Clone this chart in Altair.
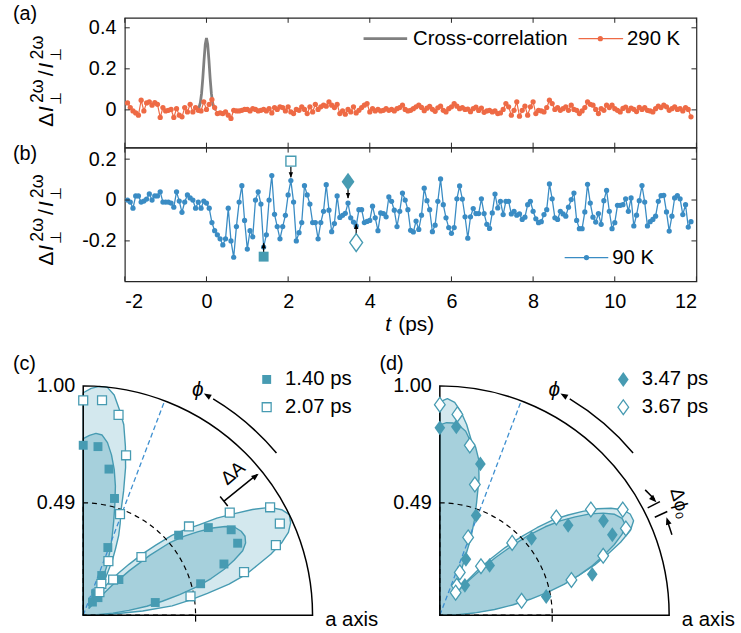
import altair as alt
import pandas as pd

FONT = "Liberation Sans"
ORANGE = "#ee6a45"
BLUE = "#3a8cc4"
GREY = "#808080"
TEAL = "#479bb2"
LIGHT_FILL = "#d3e8ee"
DARK_FILL = "#a6d0dc"
DASH_BLUE = "#3d8fd0"
FRAME = "#262626"

# ---------------- data: time traces (sampled every 1/15 ps from -29/15 ps) ----------------
K_START = -29
a_vals = [
    .034, .011, -.005, -.015, -.026, .047, -.005, .034, .039, .023,
    .035, .027, -.037, .011, -.005, -.002, .002, -.037, .006, -.026,
    -.034, .011, -.01, .027, -.01, .011, -.002, -.005, .039, .002,
    .027, .05, .011, -.018, -.015, -.018, -.01, -.026, -.042, -.002,
    -.005,
    -.005, -.002, .002, .002, -.005, .006, .002, -.005, -.002, .002,
    -.005, .006, -.015, .011, .002, .015, .011, -.005, .015, -.01,
    -.018, .002, -.002, .015, .002, -.018, .015, -.01, .027, .002,
    .015, .023, .018, .039, .023, .011, .027, -.018, -.005, -.021,
    .002, -.01, .015, -.015, -.002, .011, .023, .031, -.01, .006,
    -.005, .002, -.005, -.002, .006, -.002, .002,
    -.005, .006, .011, .023, .002, -.005, -.002, .006, .015, .023,
    .012, -.004, .008, .017, .003, -.007, .010,
    .018, -.002, -.01, .006, .015, .031, .018, .006, .011, .002,
    .004, -.009, .006, .013, -.003, .009, -.012,
    -.005, -.002, -.01, -.005, -.018, -.015, .002, .031, .015, -.026,
    -.002, .039, -.031, -.002, .018, -.026, .015, .039, -.018, -.002,
    -.005, -.01, .011, .047, .031, .002, .011, -.002, .006, .015,
    -.002, .023, .002, -.002, -.018, -.005, .011, .039, .027, .023,
    .002, -.018, .006, -.002, .023, .011, .023, .006, -.002, -.01,
    .007, .014, -.004, .009, .003, -.008, .012,
    .002, .011, -.002, -.005, -.01, .006, .018, .011, .023, .015,
    -.002, .006, .015, .002, .006, -.005, .011, .002, -.034,
]
b_vals = [
    0.0, -0.01, -0.04, 0.02, 0.02, -0.01, -0.005, 0.005, 0.03, 0.0,
    0.02, 0.02, 0.04, -0.01, -0.01, -0.01, -0.015, -0.035, 0.04, -0.005,
    -0.06, -0.01, 0.025, 0.01, 0.0, -0.04, -0.01, -0.04, -0.005, -0.015,
    -0.04, -0.11, -0.15, -0.17, -0.19, -0.22, -0.19, -0.04, -0.20, -0.28,
    -0.13, -0.01, 0.07, -0.10, -0.24, -0.15, -0.18, 0.00, 0.04, -0.02,
    -0.23, -0.17, 0.00,
    0.12, -0.07, -0.13, -0.19, -0.13, -0.075, 0.025, 0.095, -0.01, -0.20,
    -0.16, -0.11, 0.07, 0.025, -0.02, -0.11, -0.11, -0.19, -0.11, -0.055,
    0.075, -0.05, -0.155, -0.115, 0.02, -0.085, -0.075, -0.065, -0.015, -0.087,
    -0.108, -0.127, -0.047, -0.047, -0.11, -0.105, -0.10, -0.03, -0.087, -0.15,
    -0.063, -0.066, -0.082, 0.015, -0.006, -0.05, -0.13, -0.055, 0.034, 0.0,
    -0.047, -0.148, -0.156, -0.103, -0.144, -0.074, 0.058, -0.003, -0.047, -0.155,
    -0.123, -0.006, 0.103, -0.023, -0.087, -0.135, -0.163, -0.135, 0.006, 0.069,
    0.005, -0.082, -0.187, -0.082, -0.042, -0.066, -0.066, 0.006, -0.066, -0.119,
    -0.139, -0.063, 0.029, -0.039, -0.006, -0.071, -0.006, -0.006, -0.068, -0.055,
    -0.074, -0.068, -0.095, -0.084, -0.023, -0.006, -0.055, -0.092, -0.111, -0.106,
    -0.071, -0.047, 0.079, 0.006, -0.087, -0.095, -0.055, -0.068, -0.079, -0.035,
    0.002, 0.034, -0.10, -0.14, -0.14, -0.058, 0.077, -0.015, -0.084, -0.108,
    -0.066, -0.119, -0.003, 0.047, -0.055, -0.14, -0.111, -0.026, -0.026, -0.023,
    0.006, -0.055, 0.01, -0.127, -0.074, -0.003, 0.071, -0.01, -0.127, -0.106,
    -0.095, -0.079, -0.006, 0.021, 0.023, -0.058, -0.152, -0.079, 0.01, 0.021,
    0.006, -0.071, -0.023, -0.132, -0.106,
]
t_vals = [(K_START + i) / 15 for i in range(len(b_vals))]

cc_t = [-0.24, -0.21, -0.18, -0.15, -0.12, -0.09, -0.06, -0.03, 0.0,
        0.03, 0.06, 0.09, 0.12, 0.15, 0.18, 0.21, 0.24]
cc_v = [0.001, 0.004, 0.013, 0.035, 0.08, 0.153, 0.242, 0.319, 0.35,
        0.319, 0.242, 0.153, 0.08, 0.035, 0.013, 0.004, 0.001]

X_TICKS = [-2, 0, 2, 4, 6, 8, 10, 12]
YA_TICKS = [0, 0.2, 0.4]
YB_TICKS = [-0.2, 0, 0.2]

# markers & arrows in (b)
mk_t = [1.40, 2.067, 3.467, 3.667]
mk_v = [-0.277, 0.19, 0.09, -0.208]
ar_tail = [-0.258, 0.163, 0.058, -0.178]
ar_tip = [-0.212, 0.112, 0.010, -0.118]
ar_rot = [0, 180, 180, 0]

# ---------------- data: polar panels ----------------
ANG = list(range(0, 92, 2))
c_light_r = [0, .12, .26, .39, .47, .55, .65, .73, .79, .86,
             .92, .965, .99, 1.0, .98, .94, .87, .79, .72, .64,
             .58, .52, .44, .37, .30, .24, .18, .14, .13, .17,
             .21, .27, .32, .38, .43, .48, .57, .67, .76, .85,
             .91, .97, 1.0, 1.0, .99, .97]
c_dark_r = [0, .06, .13, .2, .28, .35, .43, .51, .58, .645,
            .70, .75, .775, .785, .78, .765, .73, .68, .62, .56,
            .49, .39, .28, .18, .08, .04, .04, .06, .09, .12,
            .15, .18, .23, .27, .32, .37, .43, .50, .58, .65,
            .71, .76, .79, .795, .785, .77]
d_light_r = [0, .07, .14, .21, .29, .37, .45, .55, .63, .71,
             .78, .85, .91, .94, .94, .92, .88, .83, .77, .71,
             .65, .57, .49, .41, .33, .25, .18, .13, .12, .13,
             .15, .17, .2, .24, .30, .36, .43, .56, .66, .72,
             .78, .84, .89, .93, .945, .93]
d_dark_r = [0, .08, .16, .24, .32, .40, .48, .56, .63, .70,
            .76, .82, .87, .90, .90, .88, .84, .79, .73, .67,
            .60, .52, .43, .35, .27, .2, .15, .12, .11, .12,
            .14, .17, .21, .26, .36, .44, .52, .62, .70, .75,
            .77, .81, .83, .84, .84, .83]

M_ANG = [90, 85, 80, 75, 70, 65, 60, 55, 50, 45, 40, 35, 30, 25, 20, 15, 10]
c_open_r = [.937, .941, .887, .722, .469, .26, .158, .123, .203, .359, .602, .78, .941, .946, .894, .726, .475]
c_fill_r = [.741, .738, .647, .527, .314, .191, .108, .07, .10, .22, .543, .666, .745, .743, .653, .53, .319]
d_open_r = [.918, .879, .752, .59, .361, .206, .148, .12, .279, .446, .663, .804, .921, .895, .758, .594, .362]
d_fill_r = [.817, .825, .75, .683, .463, .269, .15, .12, .17, .307, .522, .683, .824, .83, .76, .688, .471]

UNIT = 231.5          # pixels per unit radius
D = 1.555             # offset of panel (d) origin, in radius units
XCD = alt.Scale(domain=[0.1814, 0.1814 + 577 / UNIT], nice=False, zero=False)
YCD = alt.Scale(domain=[0, 337 / UNIT], nice=False, zero=False)
RS = alt.Scale(type="linear", domain=[0, 1], range=[0, UNIT], zero=True, nice=False)

W, HA, HB = 577, 131, 135
XS = alt.Scale(domain=[-2, 12], nice=False, zero=False)
YAS = alt.Scale(domain=[-0.184, 0.4485], nice=False, zero=False)
YBS = alt.Scale(domain=[-0.398, 0.2564], nice=False, zero=False)

ONE = pd.DataFrame({"d": [0]})
DIAMOND = "M0,-1L0.72,0L0,1L-0.72,0Z"
HEAD = "M0,-1L0.7,0.8L-0.7,0.8Z"


def ptext(s, px, py, size=20, align="left", baseline="middle", style="normal", angle=0):
    kw = dict(text=s, font=FONT, fontSize=size, align=align, baseline=baseline,
              color="black", fontStyle=style)
    if angle:
        kw["angle"] = angle
    return alt.Chart(ONE).mark_text(**kw).encode(x=alt.value(px), y=alt.value(py))


def ytitle(x0, y0):
    parts = [("Δ", 0, 0, 21, "normal"), ("I", 15, 0, 21, "italic"),
             ("⊥", 22, 8, 15, "normal"), ("2ω", 24, -11, 18, "normal"),
             ("/", 51, 0, 21, "normal"), ("I", 59, 0, 21, "italic"),
             ("⊥", 66, 8, 15, "normal"), ("2ω", 68, -11, 18, "normal")]
    out = []
    for s, dx, dy, size, st in parts:
        out.append(alt.Chart(ONE).mark_text(text=s, font=FONT, fontSize=size, fontStyle=st,
                                            angle=270, align="left", baseline="alphabetic",
                                            dx=dx, dy=dy, color="black")
                   .encode(x=alt.value(x0), y=alt.value(y0)))
    return out


LBL_Y = ("datum.value == 0 ? '0' : (datum.value < 0 ? '-' + format(-datum.value, '.1f') "
         ": format(datum.value, '.1f'))")
LBL_X = "datum.value < 0 ? '-' + format(-datum.value, 'd') : format(datum.value, 'd')"


def mk_axis(values, expr, pad):
    return alt.Axis(values=values, labelExpr=expr, domain=False, ticks=False, tickSize=0,
                    grid=False, labelPadding=pad, labelFont=FONT, labelFontSize=20,
                    labelColor="black", title=None, labelOverlap=False)


def frame_ticks(xe, ye, yticks, h):
    xt = pd.DataFrame({"t": X_TICKS})
    yt = pd.DataFrame({"v": yticks})
    return [
        alt.Chart(xt).mark_rule(color=FRAME, strokeWidth=1).encode(x=xe, y=alt.value(0), y2=alt.value(5)),
        alt.Chart(xt).mark_rule(color=FRAME, strokeWidth=1).encode(x=xe, y=alt.value(h), y2=alt.value(h - 5)),
        alt.Chart(yt).mark_rule(color=FRAME, strokeWidth=1).encode(y=ye, x=alt.value(0), x2=alt.value(5)),
        alt.Chart(yt).mark_rule(color=FRAME, strokeWidth=1).encode(y=ye, x=alt.value(W), x2=alt.value(W - 5)),
    ]


# ---------------- panel (a) ----------------
dfa = pd.DataFrame({"t": t_vals, "v": a_vals})
dfc = pd.DataFrame({"t": cc_t, "v": cc_v})
xa = alt.X("t:Q", scale=XS, axis=None)
ya = alt.Y("v:Q", scale=YAS, axis=mk_axis(YA_TICKS, LBL_Y, 9))
panel_a = alt.layer(
    alt.Chart(dfc).mark_line(color=GREY, strokeWidth=2.8).encode(x=xa, y=ya),
    alt.Chart(dfa).mark_line(color=ORANGE, strokeWidth=1.2).encode(x=xa, y=ya),
    alt.Chart(dfa).mark_circle(color=ORANGE, size=28, opacity=1).encode(x=xa, y=ya),
    *frame_ticks(xa, ya, YA_TICKS, HA),
    alt.Chart(ONE).mark_rule(color=GREY, strokeWidth=2.8).encode(
        x=alt.value(241), x2=alt.value(285), y=alt.value(21)),
    ptext("Cross-correlation", 291, 21, 20.5),
    alt.Chart(ONE).mark_rule(color=ORANGE, strokeWidth=1.2).encode(
        x=alt.value(458), x2=alt.value(503), y=alt.value(21)),
    alt.Chart(ONE).mark_circle(color=ORANGE, size=28, opacity=1).encode(
        x=alt.value(480), y=alt.value(21)),
    ptext("290 K", 507, 21, 20.5),
    ptext("(a)", -113, -14, 20, baseline="top"),
    *ytitle(-72, 110),
).properties(width=W, height=HA)

# ---------------- panel (b) ----------------
dfb = pd.DataFrame({"t": t_vals, "v": b_vals})
xb = alt.X("t:Q", scale=XS, axis=mk_axis(X_TICKS, LBL_X, 10))
yb = alt.Y("v:Q", scale=YBS, axis=mk_axis(YB_TICKS, LBL_Y, 9))
arr = pd.DataFrame({"t": mk_t, "v": ar_tail, "v2": ar_tip, "rot": ar_rot})
heads = pd.DataFrame({"t": mk_t, "v": [tp + (0.012 if r == 180 else -0.012) for tp, r in zip(ar_tip, ar_rot)],
                      "rot": ar_rot})
mk = pd.DataFrame({"t": mk_t, "v": mk_v})
panel_b = alt.layer(
    alt.Chart(dfb).mark_line(color=BLUE, strokeWidth=1.3).encode(x=xb, y=yb),
    alt.Chart(dfb).mark_circle(color=BLUE, size=28, opacity=1).encode(x=xb, y=yb),
    alt.Chart(arr).mark_rule(color="black", strokeWidth=1.2).encode(x=xb, y=yb, y2="v2:Q"),
    alt.Chart(heads).mark_point(shape=HEAD, filled=True, color="black", size=40, opacity=1).encode(
        x=xb, y=yb, angle=alt.Angle("rot:Q", scale=None)),
    alt.Chart(mk.iloc[[0]]).mark_point(shape="square", filled=True, color=TEAL, size=100, opacity=1).encode(x=xb, y=yb),
    alt.Chart(mk.iloc[[1]]).mark_point(shape="square", filled=True, fill="white", stroke=TEAL,
                                       strokeWidth=1.4, size=100, opacity=1).encode(x=xb, y=yb),
    alt.Chart(mk.iloc[[2]]).mark_point(shape=DIAMOND, filled=True, color=TEAL, size=324, opacity=1).encode(x=xb, y=yb),
    alt.Chart(mk.iloc[[3]]).mark_point(shape=DIAMOND, filled=True, fill="white", stroke=TEAL,
                                       strokeWidth=1.4, size=324, opacity=1).encode(x=xb, y=yb),
    *frame_ticks(xb, yb, YB_TICKS, HB),
    alt.Chart(ONE).mark_rule(color=BLUE, strokeWidth=1.3).encode(
        x=alt.value(444), x2=alt.value(488), y=alt.value(111)),
    alt.Chart(ONE).mark_circle(color=BLUE, size=28, opacity=1).encode(
        x=alt.value(466), y=alt.value(111)),
    ptext("90 K", 492, 111, 20.5),
    ptext("(b)", -113, -4, 20, baseline="top"),
    *ytitle(-72, 119),
    ptext("t", 263, 179, 21, style="italic"),
    ptext("(ps)", 276, 179, 21),
).properties(width=W, height=HB)

# ---------------- panels (c) and (d) ----------------
ex = alt.X("x:Q", scale=XCD, axis=None)
ey = alt.Y("y:Q", scale=YCD, axis=None)


def polar(chart):
    return chart.transform_calculate(
        x="datum.cx + datum.r * cos(datum.a * PI / 180)",
        y="datum.r * sin(datum.a * PI / 180)")


def lobe(cx, rs, fill):
    angs = ANG + [90]
    rr = rs + [0]
    df = pd.DataFrame({"i": list(range(len(angs))), "a": angs, "r": rr, "cx": cx})
    return polar(alt.Chart(df)).mark_line(fill=fill, stroke=TEAL, strokeWidth=1.4,
                                          strokeJoin="round").encode(x=ex, y=ey, order="i:Q")


def marks(cx, rs, shape, filled, size):
    df = pd.DataFrame({"a": M_ANG, "r": rs, "cx": cx})
    if filled:
        m = alt.Chart(df).mark_point(shape=shape, filled=True, color=TEAL, size=size, opacity=1)
    else:
        m = alt.Chart(df).mark_point(shape=shape, filled=True, fill="white", stroke=TEAL,
                                     strokeWidth=1.3, size=size, opacity=1)
    return polar(m).encode(x=ex, y=ey)


arc_df = pd.DataFrame({"cx": [0, D], "cy": [0, 0], "r": [1, 1], "r2": [0, 0], "t1": [0, 0], "t2": [90, 90]})
half_df = pd.DataFrame({"cx": [0, D], "cy": [0, 0], "r": [0.49, 0.49], "r2": [0, 0], "t1": [0, 0], "t2": [90, 90]})
phi_df = pd.DataFrame({"cx": [0, D], "cy": [0, 0], "r": [1.1, 1.1], "r2": [1.1, 1.1], "t1": [31, 31], "t2": [50, 50]})


def arcs(df, **kw):
    return alt.Chart(df).transform_calculate(
        th="datum.t1 * PI / 180", th2="datum.t2 * PI / 180"
    ).mark_arc(filled=False, **kw).encode(
        x=alt.X("cx:Q", scale=XCD, axis=None), y=alt.Y("cy:Q", scale=YCD, axis=None),
        radius=alt.Radius("r:Q", scale=RS), radius2="r2:Q",
        theta=alt.Theta("th:Q", scale=None), theta2="th2:Q")


dash_df = pd.DataFrame({"p": ["c", "c", "d", "d"], "a": [69.2] * 4, "r": [0, 1, 0, 1], "cx": [0, 0, D, D]})
tick_df = pd.DataFrame({"x": [0.49, D + 0.49], "y": [0, 0], "y2": [-0.028, -0.028]})
seg_df = pd.DataFrame({
    "cx": [0, 0, D, D, D, D],
    "a1": [39, 37.1, 27.3, 24.5, 31.4, 19.1],
    "r1": [0.79, 0.79, 1.02, 1.03, 1.049, 1.071],
    "a2": [39, 40.9, 27.3, 24.5, 28.4, 22.6],
    "r2": [0.975, 0.79, 1.08, 1.09, 1.064, 1.074],
})
head_df = pd.DataFrame({
    "cx": [0, 0, D, D, D],
    "a": [38.9, 60.5, 60.5, 28.5, 22.4],
    "r": [0.965, 1.1, 1.1, 1.06, 1.075],
    "rot": [51, 300, 300, 135, 342],
})
lab_r_df = pd.DataFrame({"s": ["1.00", "0.49", "1.00", "0.49"],
                         "x": [-0.035, -0.035, D - 0.035, D - 0.035], "y": [1.0, 0.49, 1.0, 0.49]})
lab_l_df = pd.DataFrame({"s": ["a axis", "a axis", "1.40 ps", "2.07 ps", "3.47 ps", "3.67 ps"],
                         "x": [1.055, D + 1.055, 0.88, 0.88, D + 0.88, D + 0.88],
                         "y": [-0.022, -0.022, 1.028, 0.907, 1.028, 0.907]})
leg_df = pd.DataFrame({"x": [0.80, 0.80, D + 0.80, D + 0.80], "y": [1.028, 0.907, 1.028, 0.907]})
phi_lab = pd.DataFrame({"cx": [0, D], "a": [63, 63], "r": [1.1, 1.1]})

panel_cd = alt.layer(
    lobe(0, c_light_r, LIGHT_FILL),
    lobe(0, c_dark_r, DARK_FILL),
    lobe(D, d_light_r, LIGHT_FILL),
    lobe(D, d_dark_r, DARK_FILL),
    polar(alt.Chart(dash_df)).mark_line(color=DASH_BLUE, strokeWidth=1.3, strokeDash=[5, 3]).encode(
        x=ex, y=ey, detail="p:N"),
    arcs(half_df, stroke="black", strokeWidth=1.2, strokeDash=[5, 4]),
    arcs(arc_df, stroke="black", strokeWidth=1.5),
    arcs(phi_df, stroke="black", strokeWidth=1.5),
    alt.Chart(tick_df).mark_rule(color="black", strokeWidth=1.2).encode(x=ex, y=ey, y2="y2:Q"),
    alt.Chart(seg_df).transform_calculate(
        x="datum.cx + datum.r1 * cos(datum.a1 * PI / 180)", y="datum.r1 * sin(datum.a1 * PI / 180)",
        x2="datum.cx + datum.r2 * cos(datum.a2 * PI / 180)", y2="datum.r2 * sin(datum.a2 * PI / 180)",
    ).mark_rule(color="black", strokeWidth=1.5).encode(x=ex, y=ey, x2="x2:Q", y2="y2:Q"),
    polar(alt.Chart(head_df)).mark_point(shape=HEAD, filled=True, color="black", size=70, opacity=1).encode(
        x=ex, y=ey, angle=alt.Angle("rot:Q", scale=None)),
    marks(0, c_fill_r, "square", True, 81),
    marks(0, c_open_r, "square", False, 81),
    marks(D, d_fill_r, DIAMOND, True, 225),
    marks(D, d_open_r, DIAMOND, False, 225),
    alt.Chart(leg_df.iloc[[0]]).mark_point(shape="square", filled=True, color=TEAL, size=81, opacity=1).encode(x=ex, y=ey),
    alt.Chart(leg_df.iloc[[1]]).mark_point(shape="square", filled=True, fill="white", stroke=TEAL, strokeWidth=1.3,
                                           size=81, opacity=1).encode(x=ex, y=ey),
    alt.Chart(leg_df.iloc[[2]]).mark_point(shape=DIAMOND, filled=True, color=TEAL, size=225, opacity=1).encode(x=ex, y=ey),
    alt.Chart(leg_df.iloc[[3]]).mark_point(shape=DIAMOND, filled=True, fill="white", stroke=TEAL, strokeWidth=1.3,
                                           size=225, opacity=1).encode(x=ex, y=ey),
    alt.Chart(lab_r_df).mark_text(font=FONT, fontSize=20, align="right", baseline="middle", color="black").encode(
        x=ex, y=ey, text="s:N"),
    alt.Chart(lab_l_df).mark_text(font=FONT, fontSize=20.5, align="left", baseline="middle", color="black").encode(
        x=ex, y=ey, text="s:N"),
    polar(alt.Chart(phi_lab)).mark_text(text="ϕ", font=FONT, fontSize=21, fontStyle="italic",
                                        align="center", baseline="middle", color="black").encode(x=ex, y=ey),
    polar(alt.Chart(pd.DataFrame({"cx": [0], "a": [43.5], "r": [0.9]}))).mark_text(
        text="ΔA", font=FONT, fontSize=19, angle=320, align="center", baseline="middle", color="black").encode(x=ex, y=ey),
    polar(alt.Chart(pd.DataFrame({"cx": [D], "a": [25], "r": [1.155]}))).mark_text(
        text="Δϕ₀", font=FONT, fontSize=19, angle=75, align="center", baseline="middle", color="black").encode(x=ex, y=ey),
    ptext("(c)", -113, 73, 20, baseline="top"),
    ptext("(d)", 257, 73, 20, baseline="top"),
).properties(width=W, height=337, view=alt.ViewBackground(stroke="transparent"))

chart = alt.vconcat(panel_a, panel_b, panel_cd, spacing=0, bounds="flush").properties(
    padding={"left": 12, "top": 0, "right": 5, "bottom": 5}
).configure_view(stroke=FRAME, strokeWidth=1.2)

chart.save("out.html", embed_options={"renderer": "svg", "actions": False})
